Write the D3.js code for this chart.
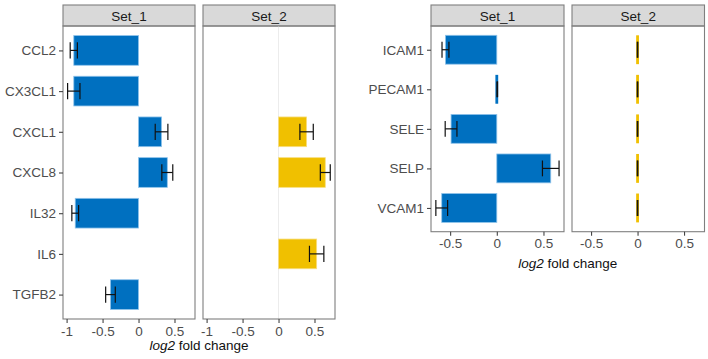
<!DOCTYPE html>
<html>
<head>
<meta charset="utf-8">
<script src="https://cdn.jsdelivr.net/npm/d3@7"></script>
<style>
  body { margin: 0; background: #fff; }
  svg { font-family: "Liberation Sans", Arial, sans-serif; }
</style>
</head>
<body>
<svg id="chart" width="708" height="359"></svg>
<script>
// left figure: chemokines / cytokines
var leftGenes = ["CCL2", "CX3CL1", "CXCL1", "CXCL8", "IL32", "IL6", "TGFB2"];
var leftSet1Mean = [-0.90, -0.90, 0.32, 0.40, -0.88, null, -0.39];
var leftSet1Err  = [0.05, 0.086, 0.088, 0.076, 0.047, null, 0.067];
var leftSet2Mean = [null, null, 0.39, 0.65, null, 0.53, null];
var leftSet2Err  = [null, null, 0.093, 0.069, null, 0.10, null];
var leftTicks = [-1, -0.5, 0, 0.5];

// right figure: adhesion molecules
var rightGenes = ["ICAM1", "PECAM1", "SELE", "SELP", "VCAM1"];
var rightSet1Mean = [-0.55, 0.005, -0.49, 0.578, -0.59];
var rightSet1Err  = [0.037, 0.003, 0.063, 0.089, 0.063];
var rightSet2Mean = [0, 0, 0, 0, 0];
var rightSet2Err  = [0.003, 0.003, 0.003, 0.003, 0.003];
var rightTicks = [-0.5, 0, 0.5];

var setNames = ["Set_1", "Set_2"];
var setColors = ["#0070C0", "#F0C000"];
var setStrokes = ["#8fc3ea", "#f7de80"];

var svg = d3.select("#chart");

const fmt = (v) => v === 0 ? "0" : String(v);

const drawFigure = (cfg) => {
    // ggplot discrete expansion of 0.6 per side
    var step = (cfg.bottom - cfg.top) / (cfg.genes.length - 1 + 1.2);
    var yScale = d3.scalePoint()
        .domain(cfg.genes)
        .range([cfg.top + 0.6 * step, cfg.bottom - 0.6 * step]);
    var barH = step * 0.73;
    var capH = step * 0.2;

    var seriesMeans = [cfg.set1Mean, cfg.set2Mean];
    var seriesErrs = [cfg.set1Err, cfg.set2Err];

    cfg.panels.forEach(function (px, p) {
        var xScale = d3.scaleLinear().domain(cfg.domain).range([px[0], px[1]]);
        var g = svg.append("g");

        // strip
        g.append("rect")
            .attr("x", px[0]).attr("y", cfg.stripTop)
            .attr("width", px[1] - px[0]).attr("height", cfg.top - cfg.stripTop)
            .attr("fill", "#d9d9d9").attr("stroke", "#7f7f7f").attr("stroke-width", 1.1);
        g.append("text")
            .attr("x", (px[0] + px[1]) / 2).attr("y", cfg.stripTop + 15.5)
            .attr("text-anchor", "middle").attr("font-size", "13.5px").attr("fill", "#1a1a1a")
            .text(setNames[p]);

        if (cfg.zeroLine && p === 1) {
            g.append("line")
                .attr("x1", xScale(0)).attr("x2", xScale(0))
                .attr("y1", cfg.top).attr("y2", cfg.bottom)
                .attr("stroke", "#ececec").attr("stroke-width", 1);
        }

        var rows = cfg.genes.map(function (gene, i) {
            return { gene: gene, mean: seriesMeans[p][i], err: seriesErrs[p][i] };
        }).filter(function (d) { return d.mean !== null; });

        var tiny = function (d) { return Math.abs(xScale(d.mean) - xScale(0)) < 2; };

        g.selectAll("rect.bar")
            .data(rows)
            .enter()
            .append("rect")
            .attr("class", "bar")
            .attr("x", function (d) {
                return tiny(d) ? xScale(0) - 1.4 : xScale(Math.min(0, d.mean));
            })
            .attr("width", function (d) {
                return tiny(d) ? 2.8 : Math.abs(xScale(d.mean) - xScale(0));
            })
            .attr("y", function (d) { return yScale(d.gene) - barH / 2; })
            .attr("height", barH)
            .attr("fill", setColors[p])
            .attr("stroke", function (d) { return tiny(d) ? "none" : setStrokes[p]; })
            .attr("stroke-width", 0.8);

        var eb = g.selectAll("g.err")
            .data(rows)
            .enter()
            .append("g")
            .attr("class", "err")
            .attr("stroke", "#111")
            .attr("stroke-width", 1.2);
        eb.append("line")
            .attr("x1", function (d) { return xScale(d.mean - d.err); })
            .attr("x2", function (d) { return xScale(d.mean + d.err); })
            .attr("y1", function (d) { return yScale(d.gene); })
            .attr("y2", function (d) { return yScale(d.gene); });
        [-1, 1].forEach(function (s) {
            eb.append("line")
                .attr("x1", function (d) { return xScale(d.mean + s * d.err); })
                .attr("x2", function (d) { return xScale(d.mean + s * d.err); })
                .attr("y1", function (d) { return yScale(d.gene) - capH; })
                .attr("y2", function (d) { return yScale(d.gene) + capH; });
        });

        // panel border
        g.append("rect")
            .attr("x", px[0]).attr("y", cfg.top)
            .attr("width", px[1] - px[0]).attr("height", cfg.bottom - cfg.top)
            .attr("fill", "none").attr("stroke", "#7f7f7f").attr("stroke-width", 1.1);

        // x axis
        var xAxis = svg.append("g")
            .attr("transform", "translate(0," + cfg.bottom + ")")
            .call(d3.axisBottom(xScale).tickValues(cfg.ticks).tickFormat(fmt).tickSize(4).tickPadding(3));
        xAxis.select(".domain").remove();
        xAxis.selectAll("line").attr("stroke", "#444").attr("stroke-width", 1.1);
        xAxis.selectAll("text").attr("fill", "#4d4d4d").attr("font-size", "13.5px")
            .attr("font-family", "'Liberation Sans', Arial, sans-serif");
    });

    // y axis (left of first panel)
    var yAxis = svg.append("g")
        .attr("transform", "translate(" + cfg.panels[0][0] + ",0)")
        .call(d3.axisLeft(yScale).tickSize(4).tickPadding(3));
    yAxis.select(".domain").remove();
    yAxis.selectAll("line").attr("stroke", "#444").attr("stroke-width", 1.1);
    yAxis.selectAll("text").attr("fill", "#4d4d4d").attr("font-size", "13.5px")
        .attr("font-family", "'Liberation Sans', Arial, sans-serif");

    // axis title
    var title = svg.append("text")
        .attr("x", (cfg.panels[0][0] + cfg.panels[1][1]) / 2)
        .attr("y", cfg.titleY)
        .attr("text-anchor", "middle").attr("font-size", "13.5px").attr("fill", "#111");
    title.append("tspan").attr("font-style", "italic").text("log2");
    title.append("tspan").text(" fold change");
};

drawFigure({
    genes: leftGenes,
    set1Mean: leftSet1Mean, set1Err: leftSet1Err,
    set2Mean: leftSet2Mean, set2Err: leftSet2Err,
    ticks: leftTicks,
    domain: [-1.05, 0.785],
    panels: [[63, 195], [203, 335]],
    stripTop: 5, top: 26, bottom: 319,
    titleY: 350,
    zeroLine: true
});

drawFigure({
    genes: rightGenes,
    set1Mean: rightSet1Mean, set1Err: rightSet1Err,
    set2Mean: rightSet2Mean, set2Err: rightSet2Err,
    ticks: rightTicks,
    domain: [-0.705, 0.72],
    panels: [[431, 564], [572, 704.5]],
    stripTop: 5, top: 26, bottom: 231.7,
    titleY: 268,
    zeroLine: false
});
</script>
</body>
</html>
